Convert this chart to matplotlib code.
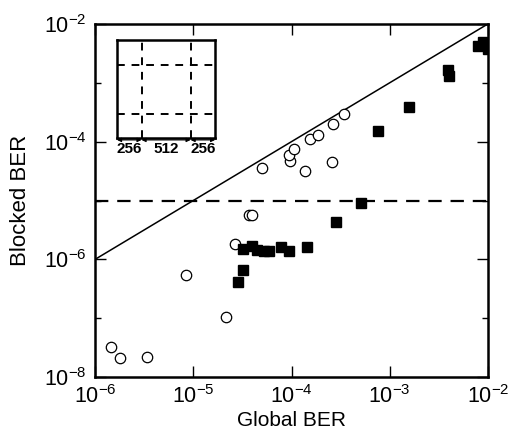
import numpy as np
import matplotlib.pyplot as plt
from matplotlib.ticker import FixedLocator, NullFormatter

plt.rcParams['font.family'] = ['Liberation Sans', 'DejaVu Sans']
plt.rcParams['mathtext.fontset'] = 'custom'
plt.rcParams['mathtext.rm'] = 'Liberation Sans'

# open circles
circ_x = [1.46e-6, 1.8e-6, 3.4e-6, 8.4e-6, 2.15e-5, 2.66e-5, 3.7e-5, 4.0e-5,
          5.0e-5, 9.7e-5, 9.5e-5, 1.06e-4, 1.37e-4, 1.54e-4, 1.85e-4,
          2.6e-4, 2.66e-4, 3.4e-4]
circ_y = [3.2e-8, 2.1e-8, 2.2e-8, 5.4e-7, 1.05e-7, 1.83e-6, 5.7e-6, 5.7e-6,
          3.55e-5, 4.7e-5, 6.0e-5, 7.4e-5, 3.2e-5, 1.1e-4, 1.29e-4,
          4.5e-5, 1.99e-4, 2.94e-4]

# filled squares
sq_x = [3.2e-5, 3.93e-5, 4.43e-5, 5.3e-5, 5.9e-5, 7.76e-5, 9.5e-5, 1.44e-4,
        3.2e-5, 2.85e-5, 2.84e-4, 5.1e-4, 7.65e-4, 1.57e-3, 3.94e-3,
        4.03e-3, 7.96e-3, 8.95e-3, 1.0e-2]
sq_y = [1.5e-6, 1.69e-6, 1.45e-6, 1.4e-6, 1.4e-6, 1.64e-6, 1.37e-6, 1.64e-6,
        6.5e-7, 4.07e-7, 4.27e-6, 9.2e-6, 1.53e-4, 3.95e-4, 1.66e-3,
        1.28e-3, 4.14e-3, 5.0e-3, 3.7e-3]

diag = [1e-6, 1e-2]
threshold = 1e-5

x_ticks = [1e-6, 1e-5, 1e-4, 1e-3, 1e-2]
x_labels = ['$10^{-6}$', '$10^{-5}$', '$10^{-4}$', '$10^{-3}$', '$10^{-2}$']
y_ticks = [1e-8, 1e-6, 1e-4, 1e-2]
y_labels = ['$10^{-8}$', '$10^{-6}$', '$10^{-4}$', '$10^{-2}$']
y_minor = [1e-7, 1e-5, 1e-3]

# inset block layout
block = 1024
cuts = [256, 768]
seg_labels = ['256', '512', '256']

fig = plt.figure(figsize=(5.11, 4.34), dpi=100)
ax = fig.add_axes([0.186, 0.131, 0.769, 0.814])

ax.plot(diag, diag, color='black', lw=1.1)
ax.axhline(threshold, color='black', lw=1.6, dashes=(6, 4))
ax.plot(circ_x, circ_y, 'o', mfc='white', mec='black', mew=0.9, ms=7.5, ls='none')
ax.plot(sq_x, sq_y, 's', color='black', ms=6.5, ls='none')

ax.set_xscale('log')
ax.set_yscale('log')
ax.set_xlim(1e-6, 1e-2)
ax.set_ylim(1e-8, 1e-2)

ax.xaxis.set_major_locator(FixedLocator(x_ticks))
ax.set_xticklabels(x_labels)
ax.xaxis.set_minor_locator(FixedLocator([]))
ax.yaxis.set_major_locator(FixedLocator(y_ticks))
ax.set_yticklabels(y_labels)
ax.yaxis.set_minor_locator(FixedLocator(y_minor))
ax.yaxis.set_minor_formatter(NullFormatter())

ax.tick_params(which='major', direction='in', length=8, width=1,
               top=True, right=True, labelsize=15.5, pad=6)
ax.tick_params(which='minor', direction='in', length=4, width=1,
               top=True, right=True)
for s in ax.spines.values():
    s.set_linewidth(1.8)

ax.set_xlabel('Global BER', fontsize=15, labelpad=2)
ax.set_ylabel('Blocked BER', fontsize=16, labelpad=9)

# inset
ins = fig.add_axes([0.229, 0.682, 0.192, 0.225])
ins.set_xlim(0, block)
ins.set_ylim(0, block)
for c in cuts:
    ins.axvline(c, color='black', lw=1.4, dashes=(4, 3.5))
    ins.axhline(c, color='black', lw=1.4, dashes=(4, 3.5))
ins.set_xticks([])
ins.set_yticks([])
for s in ins.spines.values():
    s.set_linewidth(1.8)

edges = [0] + cuts + [block]
for i, lab in enumerate(seg_labels):
    a, b = edges[i], edges[i + 1]
    ins.annotate('', xy=(a, -20), xytext=(b, -20), xycoords='data',
                 arrowprops=dict(arrowstyle='<|-|>', color='black', lw=0.8,
                                 mutation_scale=6, shrinkA=0, shrinkB=0),
                 annotation_clip=False)
    ins.text((a + b) / 2, -40, lab, ha='center', va='top', fontsize=11,
             fontweight='bold', clip_on=False)

fig.savefig('out.png', dpi=100)
